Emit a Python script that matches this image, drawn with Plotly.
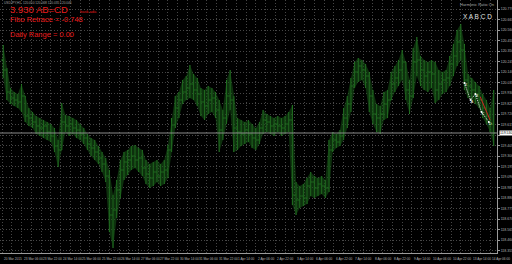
import plotly.graph_objects as go
import numpy as np

# ---- data (USDJPY H1, aggregated to 3-hour bars) ----
first_open = 120.26
highs = [120.41,120.18,119.98,119.94,119.92,120.02,119.90,119.78,119.74,119.70,
         119.68,119.66,119.64,119.62,119.58,119.46,119.83,119.71,119.70,119.68,
         119.66,119.62,119.58,119.52,119.48,119.46,119.40,119.34,119.28,119.16,
         118.91,119.06,119.26,119.34,119.36,119.40,119.41,119.38,119.36,119.26,
         119.22,119.24,119.26,119.22,119.26,119.41,119.68,119.90,119.94,120.06,
         120.10,120.21,120.12,120.08,119.98,119.96,120.00,119.98,119.94,119.86,
         119.76,120.06,120.16,119.90,119.68,119.66,119.64,119.66,119.62,119.58,
         119.64,119.76,119.72,119.70,119.68,119.70,119.68,119.70,119.74,119.81,
         119.04,119.00,119.02,119.08,119.14,119.10,119.08,119.10,119.06,119.46,
         119.54,119.52,119.56,119.78,119.90,120.08,120.24,120.28,120.26,120.22,
         120.14,119.96,119.82,119.80,119.94,119.96,120.14,120.20,120.26,120.36,
         120.24,120.06,120.38,120.49,120.30,120.26,120.24,120.26,120.24,120.16,
         120.14,120.16,120.30,120.42,120.56,120.62,120.42,120.12,120.08,120.04,
         120.00,119.92,119.86,119.78,119.96]
lows = [120.08,119.86,119.82,119.80,119.78,119.74,119.64,119.60,119.58,119.52,
        119.50,119.48,119.46,119.44,119.34,119.19,119.36,119.54,119.50,119.52,
        119.48,119.46,119.42,119.36,119.30,119.26,119.22,119.14,119.04,118.54,
        118.38,118.68,118.88,119.06,119.11,119.16,119.18,119.14,119.10,119.02,
        118.98,119.00,119.04,119.00,119.02,119.08,119.34,119.58,119.68,119.82,
        119.86,119.88,119.86,119.80,119.70,119.66,119.72,119.74,119.68,119.34,
        119.46,119.62,119.76,119.34,119.36,119.40,119.42,119.44,119.38,119.36,
        119.42,119.52,119.54,119.52,119.50,119.54,119.50,119.52,119.54,118.81,
        118.71,118.78,118.80,118.82,118.90,118.88,118.90,118.92,118.88,118.94,
        119.34,119.38,119.40,119.46,119.58,119.74,119.98,120.04,120.06,119.98,
        119.74,119.62,119.54,119.52,119.66,119.68,119.86,119.94,120.00,120.06,
        119.86,119.72,119.88,120.10,120.00,119.96,119.94,119.98,119.83,119.86,
        119.92,119.94,120.00,120.10,120.20,120.26,119.96,119.88,119.86,119.82,
        119.78,119.68,119.62,119.54,119.40]
closes = [120.16,119.94,119.88,119.86,119.84,119.90,119.70,119.68,119.64,119.60,
          119.58,119.60,119.54,119.50,119.40,119.36,119.64,119.60,119.62,119.58,
          119.56,119.52,119.48,119.42,119.38,119.34,119.28,119.22,119.10,118.71,
          118.76,118.96,119.16,119.24,119.26,119.30,119.26,119.28,119.18,119.12,
          119.08,119.14,119.10,119.14,119.16,119.36,119.61,119.78,119.86,119.94,
          119.98,120.02,119.96,119.92,119.84,119.80,119.86,119.88,119.76,119.56,
          119.68,119.90,119.86,119.58,119.54,119.52,119.56,119.52,119.48,119.46,
          119.58,119.66,119.64,119.60,119.62,119.60,119.58,119.62,119.66,118.91,
          118.86,118.90,118.88,119.00,119.04,118.98,119.02,119.00,118.98,119.36,
          119.46,119.44,119.50,119.68,119.82,120.00,120.14,120.20,120.16,120.10,
          119.90,119.72,119.68,119.72,119.82,119.86,120.02,120.08,120.16,120.24,
          119.96,119.90,120.24,120.26,120.16,120.10,120.14,120.12,119.96,120.02,
          120.06,120.08,120.22,120.30,120.44,120.36,120.06,120.00,119.96,119.92,
          119.86,119.78,119.70,119.62,119.53]
opens = [first_open] + closes[:-1]
bar_index = [3 * k + 1 for k in range(len(closes))]   # position in H1 bars

date_labels = ["20 Mar 2015", "23 Mar 06:00", "23 Mar 22:00", "24 Mar 14:00", "25 Mar 06:00",
               "25 Mar 22:00", "26 Mar 14:00", "27 Mar 06:00", "27 Mar 22:00", "30 Mar 14:00",
               "31 Mar 06:00", "31 Mar 22:00", "1 Apr 14:00", "2 Apr 06:00", "2 Apr 22:00",
               "3 Apr 14:00", "6 Apr 06:00", "6 Apr 22:00", "7 Apr 14:00", "8 Apr 06:00",
               "8 Apr 22:00", "9 Apr 14:00", "10 Apr 06:00", "10 Apr 22:00", "13 Apr 14:00",
               "14 Apr 06:00"]
bars_per_label = 16

price_top_tick = 120.770
price_step = 0.105

# harmonic pattern overlay
pattern_idx = [379, 384, 388, 393, 399]
pattern_px = [120.03, 119.86, 119.92, 119.74, 119.64]
pattern_names = ["X", "A", "B", "C", "D"]
abcd_idx = [392, 400]
abcd_px = [119.89, 119.66]

GREEN = "#2c8c2c"
BAND = "rgba(22,80,22,0.6)"
GRID = "#464646"
AXIS = "#9a9a9a"
TXT = "#b4b4b4"
RED = "#e81c1c"

fig = go.Figure()
# dense band of the hourly bars
fig.add_trace(go.Scatter(x=bar_index, y=lows, mode="lines", line=dict(width=0, color=BAND),
                         hoverinfo="skip", showlegend=False))
fig.add_trace(go.Scatter(x=bar_index, y=highs, mode="lines", line=dict(width=0, color=BAND),
                         fill="tonexty", fillcolor=BAND, hoverinfo="skip", showlegend=False))
fig.add_trace(go.Ohlc(
    x=bar_index, open=opens, high=highs, low=lows, close=closes,
    increasing=dict(line=dict(color=GREEN, width=1)),
    decreasing=dict(line=dict(color=GREEN, width=1)),
    tickwidth=0.5, hoverinfo="skip", showlegend=False))

fig.add_trace(go.Scatter(x=pattern_idx, y=pattern_px, mode="lines+markers",
                         line=dict(color="#e8e8e8", width=1, dash="1px,1px"),
                         marker=dict(color="#ffffff", size=2), hoverinfo="skip", showlegend=False))
fig.add_trace(go.Scatter(x=abcd_idx, y=abcd_px, mode="lines",
                         line=dict(color="#d02020", width=1), hoverinfo="skip", showlegend=False))
fig.add_trace(go.Scatter(x=pattern_idx, y=pattern_px, mode="text", text=pattern_names,
                         textposition="bottom right", textfont=dict(color="#ffffff", size=4),
                         hoverinfo="skip", showlegend=False))

y_lo, y_hi = 118.33, 120.86
ticks = list(np.arange(price_top_tick, y_lo, -price_step))
tick_text = ["" if abs(t - closes[-1]) < 0.06 else f"{t:.3f}" for t in ticks]

fig.update_layout(
    width=512, height=264, margin=dict(l=0, r=15, t=0, b=11),
    paper_bgcolor="#000000", plot_bgcolor="#000000",
    font=dict(family="Liberation Sans", color=TXT),
    xaxis=dict(range=[-1.64, 405.7], rangeslider=dict(visible=False),
               tickvals=list(range(0, 406, bars_per_label // 2)), showticklabels=False,
               showgrid=True, gridcolor=GRID, griddash="1px,2px", gridwidth=1,
               zeroline=False, showline=True, linecolor=AXIS, linewidth=1, ticks=""),
    yaxis=dict(range=[y_lo, y_hi], side="right", tickvals=ticks,
               ticktext=tick_text, tickfont=dict(size=3.5, color=TXT),
               showgrid=True, gridcolor=GRID, griddash="1px,2px", gridwidth=1,
               zeroline=False, showline=True, linecolor=AXIS, linewidth=1,
               ticks="outside", ticklen=2, tickcolor=AXIS),
)

# current price line and label
fig.add_shape(type="line", xref="paper", x0=0, x1=1, yref="y", y0=closes[-1], y1=closes[-1],
              line=dict(color="#8a8a8a", width=1))
fig.add_annotation(xref="paper", x=1.004, yref="y", y=closes[-1], text=f"{closes[-1]:.3f}",
                   showarrow=False, xanchor="left", yanchor="middle", bgcolor="#ffffff",
                   font=dict(size=3.5, color="#000000"), borderpad=0)

# date labels
for j, lab in enumerate(date_labels):
    fig.add_annotation(xref="x", x=j * bars_per_label, yref="paper", y=-0.008, text=lab,
                       showarrow=False, xanchor="left", yanchor="top",
                       font=dict(size=3.2, color=TXT))

def ptext(x_px, y_px, text, size, color, anchor="left"):
    fig.add_annotation(xref="paper", x=x_px / 497, yref="paper", y=1 - y_px / 253, text=text,
                       showarrow=False, xanchor=anchor, yanchor="middle",
                       font=dict(size=size, color=color))

ptext(2, 2.5, "USDJPY,H1  120.050 120.068 120.035 120.046", 3.2, "#a0a0a0")
ptext(8, 9.5, "3.930 AB=CD", 9.5, RED)
ptext(78, 11.3, "bask ada", 4, RED)
ptext(8, 20, "Fibo Retrace = -0.748", 7.5, RED)
ptext(8, 34.5, "Daily Range = 0.00", 7.5, RED)
ptext(496, 4.5, "Harmonic Ratio On", 4, "#a8a8a8", anchor="right")
ptext(494, 16.5, "X A B C D", 6.5, "#e0e0e0", anchor="right")

fig.write_html("out.html")
